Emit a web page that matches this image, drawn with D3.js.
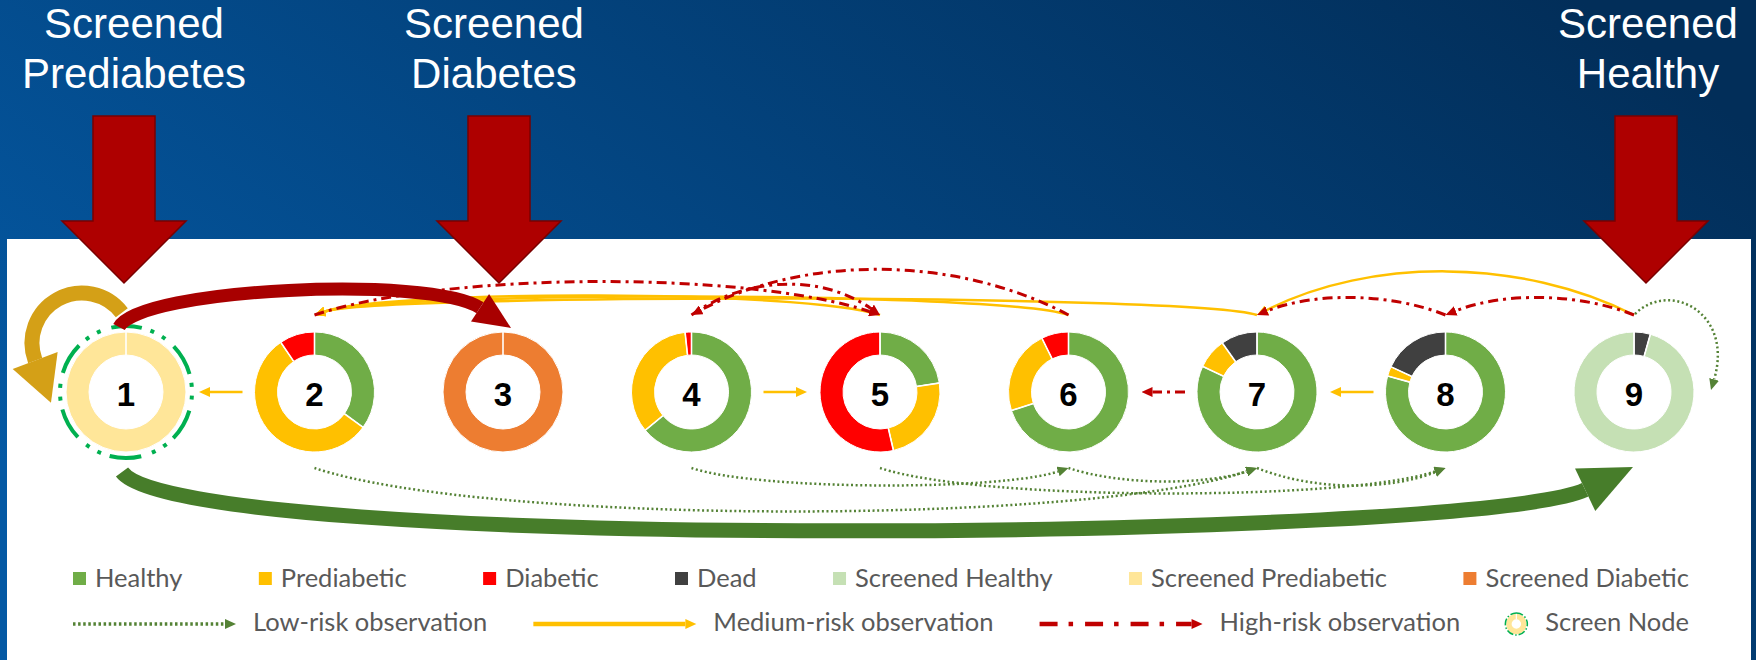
<!DOCTYPE html>
<html>
<head>
<meta charset="utf-8">
<script src="https://cdn.jsdelivr.net/npm/d3@7"></script>
<style>
  html, body { margin: 0; padding: 0; background: #fff; }
  svg { display: block; }
</style>
</head>
<body>
<div id="chart"></div>
<script>
// ---- data ----
const nodeIds = [1, 2, 3, 4, 5, 6, 7, 8, 9];
const stateNames = ["Healthy", "Prediabetic", "Diabetic", "Dead", "Screened Healthy", "Screened Prediabetic", "Screened Diabetic"];
const stateColors = ["#70ad47", "#ffc000", "#ff0000", "#404040", "#c5e0b4", "#ffe699", "#ed7d31"];
// share of each state in a node, clockwise from 12 o'clock
const nodeSlices = [
  [["Screened Prediabetic", 1]],
  [["Healthy", 0.35], ["Prediabetic", 0.555], ["Diabetic", 0.095]],
  [["Screened Diabetic", 1]],
  [["Healthy", 0.64], ["Prediabetic", 0.343], ["Diabetic", 0.017]],
  [["Healthy", 0.226], ["Prediabetic", 0.238], ["Diabetic", 0.536]],
  [["Healthy", 0.70], ["Prediabetic", 0.227], ["Diabetic", 0.073]],
  [["Healthy", 0.82], ["Prediabetic", 0.082], ["Dead", 0.098]],
  [["Healthy", 0.793], ["Prediabetic", 0.026], ["Dead", 0.181]],
  [["Dead", 0.044], ["Screened Healthy", 0.956]]
];
const screenNodes = [1];
const screenLabels = [["Screened", "Prediabetes"], ["Screened", "Diabetes"], ["Screened", "Healthy"]];
const screenTargets = [1, 3, 9];
// screening transitions out of the screen node
const screenLinks = [[1, 1, "#d4a017"], [1, 3, "#a80000"], [1, 9, "#477d2a"]];
// observation transitions [from, to, risk]
const topLinks = [[5, 2, "medium"], [6, 2, "medium"], [7, 2, "medium"], [9, 7, "medium"],
                  [2, 5, "high"], [4, 5, "high"], [6, 4, "high"], [8, 7, "high"], [9, 8, "high"]];
const sideLinks = [[2, 1, "medium"], [4, 5, "medium"], [8, 7, "medium"], [7, 6, "high"]];
const bottomLinks = [[2, 7, "low"], [4, 6, "low"], [5, 8, "low"], [6, 7, "low"], [7, 8, "low"]];
const loopLinks = [[9, "low"]];
const riskNames = ["low", "medium", "high"];
const riskLabels = ["Low-risk observation", "Medium-risk observation", "High-risk observation"];

// ---- layout ----
const W = 1756, H = 660;
const cy = 392;
const rIn = 37, rOut = 60;
const topLift = { "5-2": 19, "6-2": 18, "7-2": 16, "9-7": 43, "2-5": 33, "4-5": 30, "6-4": 45, "8-7": 17, "9-8": 17 };
const bottomLift = { "2-7": 43, "4-6": 17, "5-8": 25, "6-7": 13, "7-8": 17 };
const arrowDx = [-2, -4, 12];
const titleDx = [8, -9, 14];

const riskStyle = {
  low:    { color: "#548235", width: 2.5, dash: "2 2.6" },
  medium: { color: "#ffc000", width: 2.5, dash: null },
  high:   { color: "#c00000", width: 3, dash: "10 5 3 5" }
};
const legendRiskStyle = {
  low:    { width: 3.5, dash: "2.5 2.6" },
  medium: { width: 4.5, dash: null },
  high:   { width: 4.5, dash: "18 11 4.5 12" }
};

const color = d3.scaleOrdinal().domain(stateNames).range(stateColors);
const x = d3.scalePoint().domain(nodeIds).range([126, 1634]);

const svg = d3.select("#chart").append("svg")
  .attr("width", W)
  .attr("height", H);
const defs = svg.append("defs");

// background
const grad = defs.append("linearGradient").attr("id", "bg")
  .attr("x1", 0).attr("y1", 0.7).attr("x2", 1).attr("y2", 0.2);
grad.append("stop").attr("offset", 0).attr("stop-color", "#0459a4");
grad.append("stop").attr("offset", 1).attr("stop-color", "#022e59");
svg.append("rect").attr("width", W).attr("height", H).attr("fill", "url(#bg)");
svg.append("rect").attr("x", 7).attr("y", 239).attr("width", W - 12).attr("height", H - 239).attr("fill", "#fff");

// arrow heads for thin links
riskNames.forEach(function (r) {
  defs.append("marker")
    .attr("id", "head-" + r)
    .attr("viewBox", "0 -5 10 10")
    .attr("refX", 0).attr("refY", 0)
    .attr("markerWidth", 11).attr("markerHeight", 10)
    .attr("markerUnits", "userSpaceOnUse")
    .attr("preserveAspectRatio", "none")
    .attr("orient", "auto")
    .append("path")
    .attr("d", "M0,-5L10,0L0,5Z")
    .attr("fill", riskStyle[r].color);
});

function archPath(x0, y0, x1, y1, lift, dir, head) {
  var span = Math.abs(x1 - x0), sgn = x1 > x0 ? 1 : -1;
  var s = Math.min(span * 0.3, lift * 4);
  var yc = y0 + dir * lift / 0.75;
  var c2x = x1 - sgn * s, c2y = yc;
  var dx = x1 - c2x, dy = y1 - c2y, len = Math.hypot(dx, dy);
  var p = d3.path();
  p.moveTo(x0, y0);
  p.bezierCurveTo(x0 + sgn * s, yc, c2x, c2y, x1 - dx / len * head, y1 - dy / len * head);
  return p.toString();
}

function styleLink(sel, risk) {
  var st = riskStyle[risk];
  sel.attr("fill", "none")
    .attr("stroke", st.color)
    .attr("stroke-width", st.width)
    .attr("stroke-dasharray", st.dash)
    .attr("marker-end", "url(#head-" + risk + ")");
}

var links = svg.append("g").attr("class", "links");

topLinks.forEach(function (l) {
  links.append("path")
    .attr("d", archPath(x(l[0]), cy - 77, x(l[1]), cy - 77, topLift[l[0] + "-" + l[1]], -1, 11))
    .call(styleLink, l[2]);
});
bottomLinks.forEach(function (l) {
  links.append("path")
    .attr("d", archPath(x(l[0]), cy + 76, x(l[1]), cy + 76, bottomLift[l[0] + "-" + l[1]], 1, 11))
    .call(styleLink, l[2]);
});
sideLinks.forEach(function (l) {
  var sgn = x(l[1]) > x(l[0]) ? 1 : -1;
  var tip = x(l[1]) - sgn * 73;
  links.append("path")
    .attr("d", "M" + (x(l[0]) + sgn * 72) + "," + cy + "L" + (tip - sgn * 11) + "," + cy)
    .call(styleLink, l[2]);
});
loopLinks.forEach(function (l) {
  var nx = x(l[0]);
  var c2 = [nx + 100, cy - 80], end = [nx + 77, cy - 2];
  var dx = end[0] - c2[0], dy = end[1] - c2[1], len = Math.hypot(dx, dy);
  var p = d3.path();
  p.moveTo(nx + 1, cy - 78);
  p.bezierCurveTo(nx + 35, cy - 112, c2[0], c2[1], end[0] - dx / len * 11, end[1] - dy / len * 11);
  links.append("path").attr("d", p.toString()).call(styleLink, l[1]);
});

// donuts
var pie = d3.pie().sort(null).value(function (d) { return d[1]; });
var arc = d3.arc().innerRadius(rIn).outerRadius(rOut);

nodeIds.forEach(function (id, i) {
  var g = svg.append("g").attr("transform", "translate(" + x(id) + "," + cy + ")");
  var arcs = pie(nodeSlices[i]);
  g.selectAll("path").data(arcs).join("path")
    .attr("d", arc)
    .attr("fill", function (d) { return color(d.data[0]); })
    .attr("stroke", "#fff")
    .attr("stroke-width", 1);
  g.selectAll("line").data(arcs).join("line")
    .attr("x1", function (d) { return rIn * Math.sin(d.startAngle); })
    .attr("y1", function (d) { return -rIn * Math.cos(d.startAngle); })
    .attr("x2", function (d) { return (rOut + 1) * Math.sin(d.startAngle); })
    .attr("y2", function (d) { return -(rOut + 1) * Math.cos(d.startAngle); })
    .attr("stroke", "#fff")
    .attr("stroke-width", 1.6);
  if (screenNodes.indexOf(id) >= 0) {
    g.append("circle")
      .attr("r", 66)
      .attr("transform", "rotate(-90)")
      .attr("fill", "none")
      .attr("stroke", "#00b050")
      .attr("stroke-width", 4)
      .attr("stroke-dasharray", "32 9 4 9 4 11.2")
      .attr("stroke-dashoffset", 16);
  }
  g.append("text")
    .attr("y", 14)
    .attr("text-anchor", "middle")
    .attr("font-family", "'Liberation Sans', Arial, sans-serif")
    .attr("font-weight", "bold")
    .attr("font-size", 33)
    .attr("fill", "#000")
    .text(id);
});

// screening transitions (thick arrows)
function thickArrow(p0, c1, c2, tip, headLen, headW, strokeW, fill) {
  var dx = tip[0] - c2[0], dy = tip[1] - c2[1], len = Math.hypot(dx, dy);
  var ux = dx / len, uy = dy / len;
  var bx = tip[0] - ux * headLen, by = tip[1] - uy * headLen;
  var p = d3.path();
  p.moveTo(p0[0], p0[1]);
  p.bezierCurveTo(c1[0], c1[1], c2[0], c2[1], bx, by);
  svg.append("path").attr("d", p.toString())
    .attr("fill", "none").attr("stroke", fill).attr("stroke-width", strokeW);
  svg.append("path")
    .attr("d", d3.line()([[bx - uy * headW / 2, by + ux * headW / 2], tip, [bx + uy * headW / 2, by - ux * headW / 2]]) + "Z")
    .attr("fill", fill);
}

screenLinks.forEach(function (l) {
  var sx = x(l[0]), tx = x(l[1]);
  if (l[0] === l[1]) {
    // self loop: circular arc over the top-left of the node
    var ccx = sx - 44, ccy = cy - 49, r = 50, a0 = -0.65, a1 = -3.5;
    var p = d3.path();
    p.arc(ccx, ccy, r, a0, a1, true);
    svg.append("path").attr("d", p.toString())
      .attr("fill", "none").attr("stroke", l[2]).attr("stroke-width", 15);
    var bx = ccx + r * Math.cos(a1), by = ccy + r * Math.sin(a1);
    var ux = Math.sin(a1), uy = -Math.cos(a1);
    var hl = 45, hw = 48;
    svg.append("path")
      .attr("d", d3.line()([[bx - uy * hw / 2, by + ux * hw / 2], [bx + ux * hl, by + uy * hl], [bx + uy * hw / 2, by - ux * hw / 2]]) + "Z")
      .attr("fill", l[2]);
  } else if (tx < x(5)) {
    thickArrow([sx - 7, cy - 65], [sx + 14, cy - 104], [tx - 73, cy - 117], [tx + 8, cy - 64], 37, 33, 13, l[2]);
  } else {
    thickArrow([sx - 4, cy + 80], [sx + 56, cy + 163], [tx - 154, cy + 148], [tx - 1, cy + 75], 53, 47, 15, l[2]);
  }
});

// screening entry arrows + titles
screenTargets.forEach(function (id, i) {
  var ax = x(id) + arrowDx[i];
  svg.append("path")
    .attr("d", d3.line()([[ax - 31, 116], [ax + 31, 116], [ax + 31, 221], [ax + 62, 221], [ax, 283], [ax - 62, 221], [ax - 31, 221]]) + "Z")
    .attr("fill", "#ae0000")
    .attr("stroke", "#7a0000")
    .attr("stroke-width", 1.5);
  var t = svg.append("text")
    .attr("text-anchor", "middle")
    .attr("font-family", "'Liberation Sans', Arial, sans-serif")
    .attr("font-size", 42)
    .attr("fill", "#fff");
  screenLabels[i].forEach(function (line, k) {
    t.append("tspan").attr("x", x(id) + titleDx[i]).attr("y", 38 + k * 50).text(line);
  });
});

// legend
var legendFont = "Lato, 'Noto Sans', sans-serif";
var legendSize = 25.5;
var legendLeft = 73, legendRight = 1689;

function justify(items, widths) {
  var gap = (legendRight - legendLeft - d3.sum(widths)) / (widths.length - 1);
  var pos = legendLeft;
  items.attr("transform", function (d, i) {
    var t = "translate(" + pos + ",0)";
    pos += widths[i] + gap;
    return t;
  });
}

var row1 = svg.append("g").selectAll("g").data(stateNames).join("g");
row1.append("rect")
  .attr("y", 572).attr("width", 13).attr("height", 13)
  .attr("fill", function (d) { return color(d); });
row1.append("text")
  .attr("x", 22).attr("y", 587)
  .attr("font-family", legendFont).attr("font-size", legendSize).attr("fill", "#595959")
  .text(function (d) { return d; });
justify(row1, row1.nodes().map(function (n) {
  return 22 + d3.select(n).select("text").node().getComputedTextLength();
}));

var row2Data = riskNames.concat(["screen"]);
var row2 = svg.append("g").selectAll("g").data(row2Data).join("g");
row2.each(function (d, i) {
  var g = d3.select(this);
  if (d === "screen") {
    var ig = g.append("g").attr("transform", "translate(10,624)");
    ig.append("circle").attr("r", 7.5).attr("fill", "none").attr("stroke", color("Screened Prediabetic")).attr("stroke-width", 5.5);
    ig.append("line").attr("y1", -10).attr("y2", -4.5).attr("stroke", "#fff").attr("stroke-width", 1.2);
    ig.append("circle").attr("r", 11).attr("fill", "none").attr("stroke", "#00b050")
      .attr("stroke-width", 1.5).attr("stroke-dasharray", "7 2 1.5 2")
      .attr("transform", "rotate(-90)");
    g.append("text").attr("x", 39).attr("y", 631)
      .attr("font-family", legendFont).attr("font-size", legendSize).attr("fill", "#595959")
      .text("Screen Node");
  } else {
    var st = riskStyle[d], ls = legendRiskStyle[d];
    g.append("line")
      .attr("x1", 0).attr("x2", 152).attr("y1", 624).attr("y2", 624)
      .attr("stroke", st.color).attr("stroke-width", ls.width)
      .attr("stroke-dasharray", ls.dash);
    g.append("path")
      .attr("d", "M152,619L163,624L152,629Z")
      .attr("fill", st.color);
    g.append("text").attr("x", 180).attr("y", 631)
      .attr("font-family", legendFont).attr("font-size", legendSize).attr("fill", "#595959")
      .text(riskLabels[i]);
  }
});
justify(row2, row2.nodes().map(function (n) {
  var txt = d3.select(n).select("text");
  return +txt.attr("x") + txt.node().getComputedTextLength();
}));
</script>
</body>
</html>
